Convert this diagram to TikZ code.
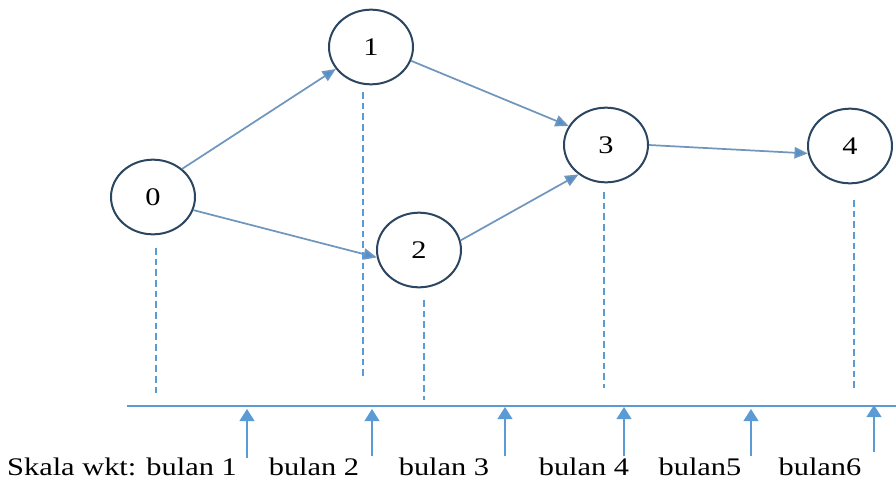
\documentclass[tikz,border=0pt]{standalone}
\usepackage{fontspec}
\setmainfont{Liberation Serif}[FakeStretch=1.2]
\usetikzlibrary{%
  arrows.meta,%
  shapes.geometric% wg. ellipse
}
\definecolor{edgeblue}{HTML}{7096BE}
\definecolor{tipblue}{HTML}{5190CF}
\definecolor{lightblue}{HTML}{5B9BD5}
\definecolor{nodenavy}{HTML}{2B4660}

\begin{document}
\begin{tikzpicture}[
  x=0.75pt, y=-0.75pt,
  font=\fontsize{19}{21}\selectfont,
  event/.style={ellipse, minimum width=63pt, minimum height=56pt, draw=nodenavy, line width=1.5pt, inner sep=0pt},
  activity/.style={draw=edgeblue, line width=1.3pt, -{Triangle[length=10pt,width=8.5pt,fill=tipblue]}},
  dropline/.style={draw=lightblue, line width=0.8pt, dash pattern=on 5pt off 3pt},
  scaleline/.style={draw=lightblue, line width=0.9pt},
  monthmark/.style={draw=lightblue, line width=1.5pt, -{Triangle[length=9pt,width=11pt]}},
  monthlabel/.style={anchor=base, inner sep=0pt}
]
\useasboundingbox (0,0) rectangle (896,479);

% kejadian
\node[event] (n0) at (153,197) {0};
\node[event] (n1) at (371,47) {1};
\node[event] (n2) at (419,250) {2};
\node[event] (n3) at (606,145) {3};
\node[event] (n4) at (850,146) {4};

% aktivitas
\draw[activity] (n0.44) -- (n1.212);
\draw[activity] (n0.-18) -- (n2.190);
\draw[activity] (n1.-19) -- (n3.153);
\draw[activity] (n2.13) -- (n3.227);
\draw[activity] (n3.east) -- (n4.190);

% garis bantu ke skala waktu
\coordinate (d0a) at (156,248); \coordinate (d0b) at (156,395);
\coordinate (d1a) at (363,92);  \coordinate (d1b) at (363,377);
\coordinate (d2a) at (424,300); \coordinate (d2b) at (424,400);
\coordinate (d3a) at (604,192); \coordinate (d3b) at (604,388);
\coordinate (d4a) at (854,200); \coordinate (d4b) at (854,388);
\draw[dropline] (d0a) -- (d0b);
\draw[dropline] (d1a) -- (d1b);
\draw[dropline] (d2a) -- (d2b);
\draw[dropline] (d3a) -- (d3b);
\draw[dropline] (d4a) -- (d4b);

% skala waktu
\coordinate (axl) at (127,406);
\coordinate (axr) at (896,406);
\draw[scaleline] (axl) -- (axr);

\coordinate (m1a) at (247,458); \coordinate (m1b) at (247,409);
\coordinate (m2a) at (372,456); \coordinate (m2b) at (372,409);
\coordinate (m3a) at (505,456); \coordinate (m3b) at (505,407);
\coordinate (m4a) at (624,456); \coordinate (m4b) at (624,407);
\coordinate (m5a) at (751,456); \coordinate (m5b) at (751,409);
\coordinate (m6a) at (874,452); \coordinate (m6b) at (874,405);
\draw[monthmark] (m1a) -- (m1b);
\draw[monthmark] (m2a) -- (m2b);
\draw[monthmark] (m3a) -- (m3b);
\draw[monthmark] (m4a) -- (m4b);
\draw[monthmark] (m5a) -- (m5b);
\draw[monthmark] (m6a) -- (m6b);

\node[monthlabel] (lb1) at (122,475) {Skala wkt: bulan 1};
\node[monthlabel] (lb2) at (314,475) {bulan 2};
\node[monthlabel] (lb3) at (444,475) {bulan 3};
\node[monthlabel] (lb4) at (584,475) {bulan 4};
\node[monthlabel] (lb5) at (700,475) {bulan5};
\node[monthlabel] (lb6) at (820,475) {bulan6};
\end{tikzpicture}
\end{document}
